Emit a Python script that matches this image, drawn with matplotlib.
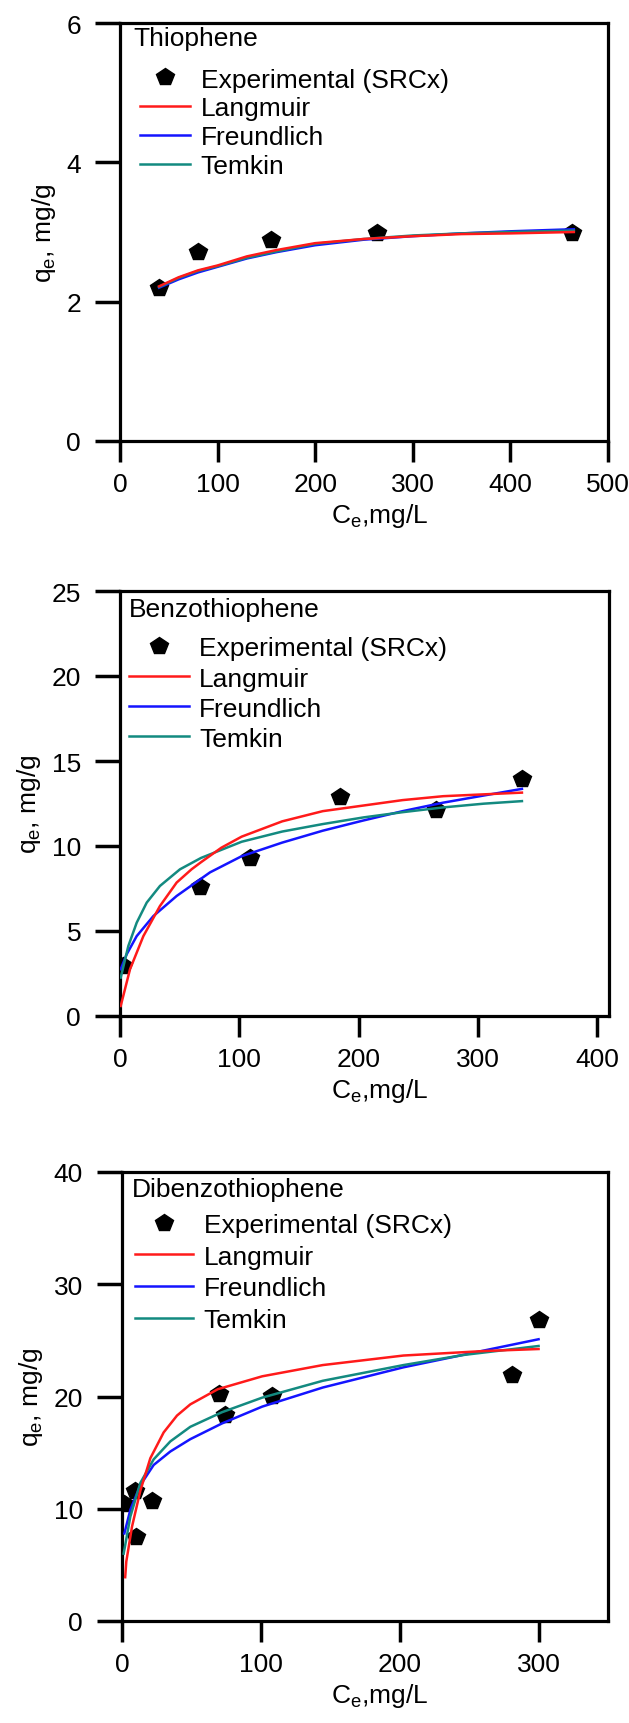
import matplotlib
matplotlib.use("Agg")
import matplotlib.pyplot as plt

plt.rcParams["font.family"] = ["Liberation Sans", "DejaVu Sans"]
plt.rcParams["mathtext.fontset"] = "custom"
plt.rcParams["mathtext.rm"] = "Liberation Sans"
plt.rcParams["font.size"] = 19

# ---- Thiophene ----
thio_x = [40, 80, 155, 263, 463]
thio_y = [2.20, 2.71, 2.89, 2.99, 2.98]
thio_fit_x = [40, 60, 80, 100, 130, 160, 200, 250, 300, 350, 400, 465]
thio_lang = [2.22, 2.35, 2.45, 2.52, 2.65, 2.74, 2.84, 2.90, 2.94, 2.97, 2.98, 3.00]
thio_freu = [2.20, 2.32, 2.42, 2.50, 2.62, 2.71, 2.81, 2.89, 2.94, 2.98, 3.01, 3.04]
thio_temk = [2.21, 2.34, 2.44, 2.51, 2.63, 2.72, 2.83, 2.90, 2.95, 2.98, 3.00, 3.02]

# ---- Benzothiophene ----
bt_x = [2.8, 66.7, 109, 184.4, 265, 336.7]
bt_y = [2.94, 7.58, 9.28, 12.86, 12.1, 13.95]
bt_lang_x = [0.6, 8.4, 19.6, 33.5, 47.5, 60, 68, 85, 102, 136, 170, 237, 271, 337]
bt_lang = [0.59, 2.75, 4.7, 6.47, 7.85, 8.63, 9.05, 9.9, 10.55, 11.45, 12.05, 12.7, 12.93, 13.14]
bt_freu_x = [0.6, 5.6, 14, 28, 47.5, 75.5, 102, 136, 170, 204, 237, 271, 305, 337]
bt_freu = [2.75, 3.63, 4.7, 5.88, 7.06, 8.45, 9.4, 10.2, 10.9, 11.5, 12.05, 12.55, 12.97, 13.36]
bt_temk_x = [0.6, 7, 14, 22.4, 33.5, 50.3, 68, 102, 136, 170, 204, 237, 271, 305, 337]
bt_temk = [2.26, 4.12, 5.49, 6.67, 7.65, 8.63, 9.3, 10.25, 10.85, 11.29, 11.68, 11.99, 12.27, 12.49, 12.64]

# ---- Dibenzothiophene ----
dbt_x = [1.5, 9.6, 10.3, 21.6, 69.7, 74, 107.7, 280.6, 300]
dbt_y = [10.4, 11.6, 7.5, 10.7, 20.2, 18.37, 20.07, 21.9, 26.8]
dbt_lang_x = [2.3, 3.1, 7.2, 13.2, 20.4, 30, 39.6, 49.2, 69, 101, 144.6, 202.7, 260.8, 300]
dbt_lang = [3.9, 5.3, 8.4, 11.6, 14.5, 16.8, 18.3, 19.3, 20.65, 21.8, 22.8, 23.65, 24.05, 24.23]
dbt_freu_x = [1.7, 6, 13.2, 22.8, 34.8, 49.2, 72, 101, 144.6, 202.7, 231.8, 260.8, 300]
dbt_freu = [7.8, 9.9, 12.1, 13.9, 15.1, 16.2, 17.6, 19.1, 20.8, 22.6, 23.35, 24.1, 25.1]
dbt_temk_x = [1.2, 6, 13.2, 22.8, 34.8, 49.2, 72, 101, 144.6, 202.7, 246, 300]
dbt_temk = [6.0, 9.3, 12.3, 14.4, 16.0, 17.3, 18.6, 19.9, 21.4, 22.8, 23.7, 24.5]

panels = [
    dict(name="Thiophene", px=thio_x, py=thio_y,
         lang=(thio_fit_x, thio_lang), freu=(thio_fit_x, thio_freu), temk=(thio_fit_x, thio_temk),
         xlim=500, xticks=[0, 100, 200, 300, 400, 500], ylim=6, yticks=[0, 2, 4, 6],
         rect=[120 / 629, 1 - 442 / 1724, 488 / 629, 418 / 1724],
         title_pos=(0.027, 0.963), leg_pos=(0.041, 0.893), hl=1.9, spacing=0.18),
    dict(name="Benzothiophene", px=bt_x, py=bt_y,
         lang=(bt_lang_x, bt_lang), freu=(bt_freu_x, bt_freu), temk=(bt_temk_x, bt_temk),
         xlim=410, xticks=[0, 100, 200, 300, 400], ylim=25, yticks=[0, 5, 10, 15, 20, 25],
         rect=[120 / 629, 1 - 1017 / 1724, 489 / 629, 425 / 1724],
         title_pos=(0.018, 0.958), leg_pos=(0.018, 0.893), hl=2.27, spacing=0.23),
    dict(name="Dibenzothiophene", px=dbt_x, py=dbt_y,
         lang=(dbt_lang_x, dbt_lang), freu=(dbt_freu_x, dbt_freu), temk=(dbt_temk_x, dbt_temk),
         xlim=350, xticks=[0, 100, 200, 300], ylim=40, yticks=[0, 10, 20, 30, 40],
         rect=[122 / 629, 1 - 1622 / 1724, 486 / 629, 449 / 1724],
         title_pos=(0.020, 0.962), leg_pos=(0.027, 0.909), hl=2.2, spacing=0.29),
]

fig = plt.figure(figsize=(6.29, 17.24), dpi=100)

for p in panels:
    ax = fig.add_axes(p["rect"])
    ax.plot(p["px"], p["py"], "p", color="black", markersize=13, zorder=2,
            label="Experimental (SRCx)")
    ax.plot(*p["lang"], color="#ff1a1a", lw=1.8, zorder=4, label="Langmuir")
    ax.plot(*p["freu"], color="#1414ff", lw=1.8, zorder=3, label="Freundlich")
    ax.plot(*p["temk"], color="#138a80", lw=1.8, zorder=3, label="Temkin")

    ax.set_xlim(0, p["xlim"])
    ax.set_ylim(0, p["ylim"])
    ax.set_xticks(p["xticks"])
    ax.set_yticks(p["yticks"])
    for s in ax.spines.values():
        s.set_linewidth(2.3)
    ax.tick_params(axis="x", direction="out", length=15, width=2.5, pad=7)
    ax.tick_params(axis="y", direction="out", length=18, width=2.5, pad=10)

    ax.set_xlabel(r"C$_\mathregular{e}$,mg/L", labelpad=4)
    ax.xaxis.label.set_x((380 - p["rect"][0] * 629) / (p["rect"][2] * 629))
    ax.set_ylabel(r"q$_\mathregular{e}$, mg/g", labelpad=6)

    ax.text(*p["title_pos"], p["name"], transform=ax.transAxes, va="center", ha="left")
    ax.legend(loc="upper left", bbox_to_anchor=p["leg_pos"], frameon=False,
              borderpad=0, borderaxespad=0, handlelength=p["hl"], handletextpad=0.4,
              labelspacing=p["spacing"], numpoints=1)

fig.savefig("out.png", dpi=100)
